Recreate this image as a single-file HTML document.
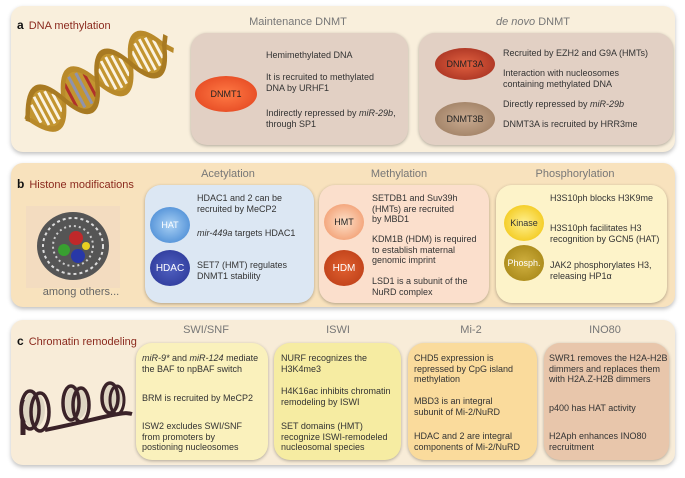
<!DOCTYPE html>
<html><head><meta charset="utf-8"><style>
body{margin:0;width:685px;height:478px;background:#fff;position:relative;font-family:"Liberation Sans",sans-serif;overflow:hidden}
.p{position:absolute;border-radius:12px;box-shadow:0 2px 4px rgba(0,0,0,.25)}
.b{position:absolute;border-radius:16px;box-shadow:0 1px 3px rgba(0,0,0,.3)}
.t{position:absolute;font-size:9px;line-height:10.5px;color:#333;white-space:nowrap}
.h{position:absolute;font-size:11px;color:#777;transform:translateX(-50%);white-space:nowrap}
.ti{position:absolute;font-size:11px;color:#8b2a1e}
.ti b{color:#111;font-size:12px;margin-right:5px}
.e{position:absolute;border-radius:50%;display:flex;align-items:center;justify-content:center;font-size:9px;transform:translate(-50%,-50%)}
</style></head><body>

<div class="p" style="left:11px;top:6px;width:664px;height:146px;background:#f9efdc"></div>
<div class="ti" style="left:17px;top:18px"><b>a</b>DNA methylation</div>
<svg style="position:absolute;left:0;top:0" width="190" height="160">
<g transform="translate(30,117) rotate(-28) scale(1,1.45)">
<g fill="#c39530">
<path d="M0,0 C12,21 26,21 38,0 C26,-21 12,-21 0,0Z"/>
<path d="M38,0 C50,21 64,21 76,0 C64,-21 50,-21 38,0Z"/>
<path d="M76,0 C88,21 102,21 114,0 C102,-21 88,-21 76,0Z"/>
<path d="M114,0 C126,21 140,21 152,0 C140,-21 126,-21 114,0Z"/>
</g>
<g stroke="#fbf3e2" stroke-width="2.8">
<line x1="7" y1="-7" x2="7" y2="7"/><line x1="13" y1="-11" x2="13" y2="11"/><line x1="19" y1="-12" x2="19" y2="12"/><line x1="25" y1="-11" x2="25" y2="11"/><line x1="31" y1="-7" x2="31" y2="7"/>
<line x1="83" y1="-7" x2="83" y2="7"/><line x1="89" y1="-11" x2="89" y2="11"/><line x1="95" y1="-12" x2="95" y2="12"/><line x1="101" y1="-11" x2="101" y2="11"/><line x1="107" y1="-7" x2="107" y2="7"/>
<line x1="121" y1="-7" x2="121" y2="7"/><line x1="127" y1="-11" x2="127" y2="11"/><line x1="133" y1="-12" x2="133" y2="12"/><line x1="139" y1="-11" x2="139" y2="11"/><line x1="145" y1="-7" x2="145" y2="7"/>
</g>
<line x1="46" y1="-9" x2="46" y2="9" stroke="#b0302a" stroke-width="3"/>
<line x1="53" y1="-12" x2="53" y2="12" stroke="#8f93ad" stroke-width="3"/>
<line x1="61" y1="-12" x2="61" y2="12" stroke="#8f93ad" stroke-width="3"/>
<line x1="68" y1="-9" x2="68" y2="9" stroke="#b0302a" stroke-width="3"/>
<path d="M-4,-2 C12,21 26,21 38,0 S64,-21 76,0 S102,21 114,0 S140,-21 152,0 L158,6" fill="none" stroke="#b98a2a" stroke-width="4"/>
<path d="M-4,2 C12,-21 26,-21 38,0 S64,21 76,0 S102,-21 114,0 S140,21 152,0 L158,-6" fill="none" stroke="#a87a22" stroke-width="4"/>
</g></svg>
<div class="h" style="left:298px;top:16px">Maintenance DNMT</div>
<div class="h" style="left:533px;top:16px"><i>de novo</i> DNMT</div>
<div class="b" style="left:191px;top:33px;width:217px;height:112px;background:#e2d0c4"></div>
<div class="b" style="left:419px;top:33px;width:254px;height:112px;background:#e2d0c4"></div>
<div class="e" style="left:226px;top:94px;width:62px;height:36px;background:radial-gradient(#ff7a45,#e0401c);color:#222">DNMT1</div>
<div class="e" style="left:465px;top:64px;width:60px;height:32px;background:radial-gradient(#e06040,#9e2a1c);color:#222">DNMT3A</div>
<div class="e" style="left:465px;top:119px;width:60px;height:34px;background:radial-gradient(#c8aa90,#98785c);color:#222">DNMT3B</div>
<div class="t" style="left:266px;top:50px">Hemimethylated DNA</div>
<div class="t" style="left:266px;top:72px">It is recruited to methylated<br>DNA by URHF1</div>
<div class="t" style="left:266px;top:108px">Indirectly repressed by <i>miR-29b</i>,<br>through SP1</div>
<div class="t" style="left:503px;top:48px">Recruited by EZH2 and G9A (HMTs)</div>
<div class="t" style="left:503px;top:68px">Interaction with nucleosomes<br>containing methylated DNA</div>
<div class="t" style="left:503px;top:99px">Directly repressed by <i>miR-29b</i></div>
<div class="t" style="left:503px;top:119px">DNMT3A is recruited by HRR3me</div>

<div class="p" style="left:11px;top:163px;width:664px;height:144px;background:#f8e2bd"></div>
<div class="ti" style="left:17px;top:177px"><b>b</b>Histone modifications</div>
<svg style="position:absolute;left:26px;top:206px" width="94" height="82">
<rect width="94" height="82" fill="#f3dcc0"/>
<ellipse cx="47" cy="40" rx="36" ry="34" fill="#555"/>
<ellipse cx="47" cy="40" rx="30" ry="28" fill="none" stroke="#ddd" stroke-width="2" stroke-dasharray="3 3"/>
<ellipse cx="47" cy="40" rx="20" ry="20" fill="none" stroke="#ccc" stroke-width="2" stroke-dasharray="2 3"/>
<circle cx="50" cy="32" r="7" fill="#c0282a"/><circle cx="38" cy="44" r="6" fill="#38a030"/>
<circle cx="52" cy="50" r="7" fill="#2838a8"/><circle cx="60" cy="40" r="4" fill="#e8d020"/>
</svg>
<div class="h" style="left:81px;top:286px;font-size:11px;color:#666">among others...</div>
<div class="h" style="left:228px;top:168px">Acetylation</div>
<div class="h" style="left:399px;top:168px">Methylation</div>
<div class="h" style="left:575px;top:168px">Phosphorylation</div>
<div class="b" style="left:145px;top:185px;width:169px;height:118px;background:#dce7f3"></div>
<div class="b" style="left:319px;top:185px;width:170px;height:118px;background:#fbdfcc"></div>
<div class="b" style="left:496px;top:185px;width:171px;height:118px;background:#fdf3c9"></div>
<div class="e" style="left:170px;top:225px;width:40px;height:36px;background:radial-gradient(#a8d0f4,#3a80d0);color:#fff">HAT</div>
<div class="e" style="left:170px;top:268px;width:40px;height:36px;background:radial-gradient(#5060c0,#283494);color:#fff;font-size:10px">HDAC</div>
<div class="e" style="left:344px;top:222px;width:40px;height:36px;background:radial-gradient(#fde0c8,#f09060);color:#222">HMT</div>
<div class="e" style="left:344px;top:268px;width:40px;height:36px;background:radial-gradient(#e06030,#b83a14);color:#fff;font-size:10px">HDM</div>
<div class="e" style="left:524px;top:223px;width:40px;height:36px;background:radial-gradient(#fff090,#f0c000);color:#333">Kinase</div>
<div class="e" style="left:524px;top:263px;width:40px;height:36px;background:radial-gradient(#d0b040,#a08010);color:#fff">Phosph.</div>
<div class="t" style="left:197px;top:193px">HDAC1 and 2 can be<br>recruited by MeCP2</div>
<div class="t" style="left:197px;top:228px"><i>mir-449a</i> targets HDAC1</div>
<div class="t" style="left:197px;top:260px">SET7 (HMT) regulates<br>DNMT1 stability</div>
<div class="t" style="left:372px;top:193px">SETDB1 and Suv39h<br>(HMTs) are recruited<br>by MBD1</div>
<div class="t" style="left:372px;top:234px">KDM1B (HDM) is required<br>to establish maternal<br>genomic imprint</div>
<div class="t" style="left:372px;top:276px">LSD1 is a subunit of the<br>NuRD complex</div>
<div class="t" style="left:550px;top:193px">H3S10ph blocks H3K9me</div>
<div class="t" style="left:550px;top:223px">H3S10ph facilitates H3<br>recognition by GCN5 (HAT)</div>
<div class="t" style="left:550px;top:260px">JAK2 phosphorylates H3,<br>releasing HP1α</div>

<div class="p" style="left:11px;top:320px;width:664px;height:145px;background:#f8ecd8"></div>
<div class="ti" style="left:17px;top:334px"><b>c</b>Chromatin remodeling</div>
<svg style="position:absolute;left:0;top:370px" width="140" height="80">
<path d="M23,65 L23,30" stroke="#3a2228" stroke-width="5"/>
<path d="M45,60 C70,55 90,50 108,46 C118,44 125,42 132,44" stroke="#3a2228" stroke-width="4" fill="none"/>
<ellipse cx="34" cy="40" rx="11" ry="18" fill="#ddd5c2"/>
<ellipse cx="30" cy="40" rx="9" ry="19" fill="none" stroke="#3a2228" stroke-width="3.5"/>
<ellipse cx="40" cy="42" rx="9" ry="19" fill="none" stroke="#3a2228" stroke-width="3.5"/>
<ellipse cx="76" cy="33" rx="11" ry="17" fill="#ddd5c2"/>
<ellipse cx="71" cy="33" rx="8" ry="17" fill="none" stroke="#3a2228" stroke-width="3.5"/>
<ellipse cx="81" cy="35" rx="8" ry="17" fill="none" stroke="#3a2228" stroke-width="3.5"/>
<ellipse cx="112" cy="28" rx="10" ry="14" fill="#ddd5c2"/>
<ellipse cx="110" cy="28" rx="8" ry="15" fill="none" stroke="#3a2228" stroke-width="3.5"/>
<ellipse cx="117" cy="30" rx="7" ry="14" fill="none" stroke="#3a2228" stroke-width="3"/>
</svg>
<div class="h" style="left:206px;top:324px">SWI/SNF</div>
<div class="h" style="left:338px;top:324px">ISWI</div>
<div class="h" style="left:471px;top:324px">Mi-2</div>
<div class="h" style="left:605px;top:324px">INO80</div>
<div class="b" style="left:136px;top:343px;width:132px;height:117px;background:#faf1bc"></div>
<div class="b" style="left:274px;top:343px;width:127px;height:117px;background:#f6eca2"></div>
<div class="b" style="left:408px;top:343px;width:129px;height:117px;background:#fadb9c"></div>
<div class="b" style="left:544px;top:343px;width:125px;height:117px;background:#e8c6ab"></div>
<div class="t" style="left:142px;top:353px"><i>miR-9*</i> and <i>miR-124</i> mediate<br>the BAF to npBAF switch</div>
<div class="t" style="left:142px;top:393px">BRM is recruited by MeCP2</div>
<div class="t" style="left:142px;top:421px">ISW2 excludes SWI/SNF<br>from promoters by<br>postioning nucleosomes</div>
<div class="t" style="left:281px;top:353px">NURF recognizes the<br>H3K4me3</div>
<div class="t" style="left:281px;top:386px">H4K16ac inhibits chromatin<br>remodeling by ISWI</div>
<div class="t" style="left:281px;top:421px">SET domains (HMT)<br>recognize ISWI-remodeled<br>nucleosomal species</div>
<div class="t" style="left:414px;top:353px">CHD5 expression is<br>repressed by CpG island<br>methylation</div>
<div class="t" style="left:414px;top:396px">MBD3 is an integral<br>subunit of Mi-2/NuRD</div>
<div class="t" style="left:414px;top:431px">HDAC and 2 are integral<br>components of Mi-2/NuRD</div>
<div class="t" style="left:549px;top:353px">SWR1 removes the H2A-H2B<br>dimmers and replaces them<br>with H2A.Z-H2B dimmers</div>
<div class="t" style="left:549px;top:403px">p400 has HAT activity</div>
<div class="t" style="left:549px;top:431px">H2Aph enhances INO80<br>recruitment</div>
</body></html>
